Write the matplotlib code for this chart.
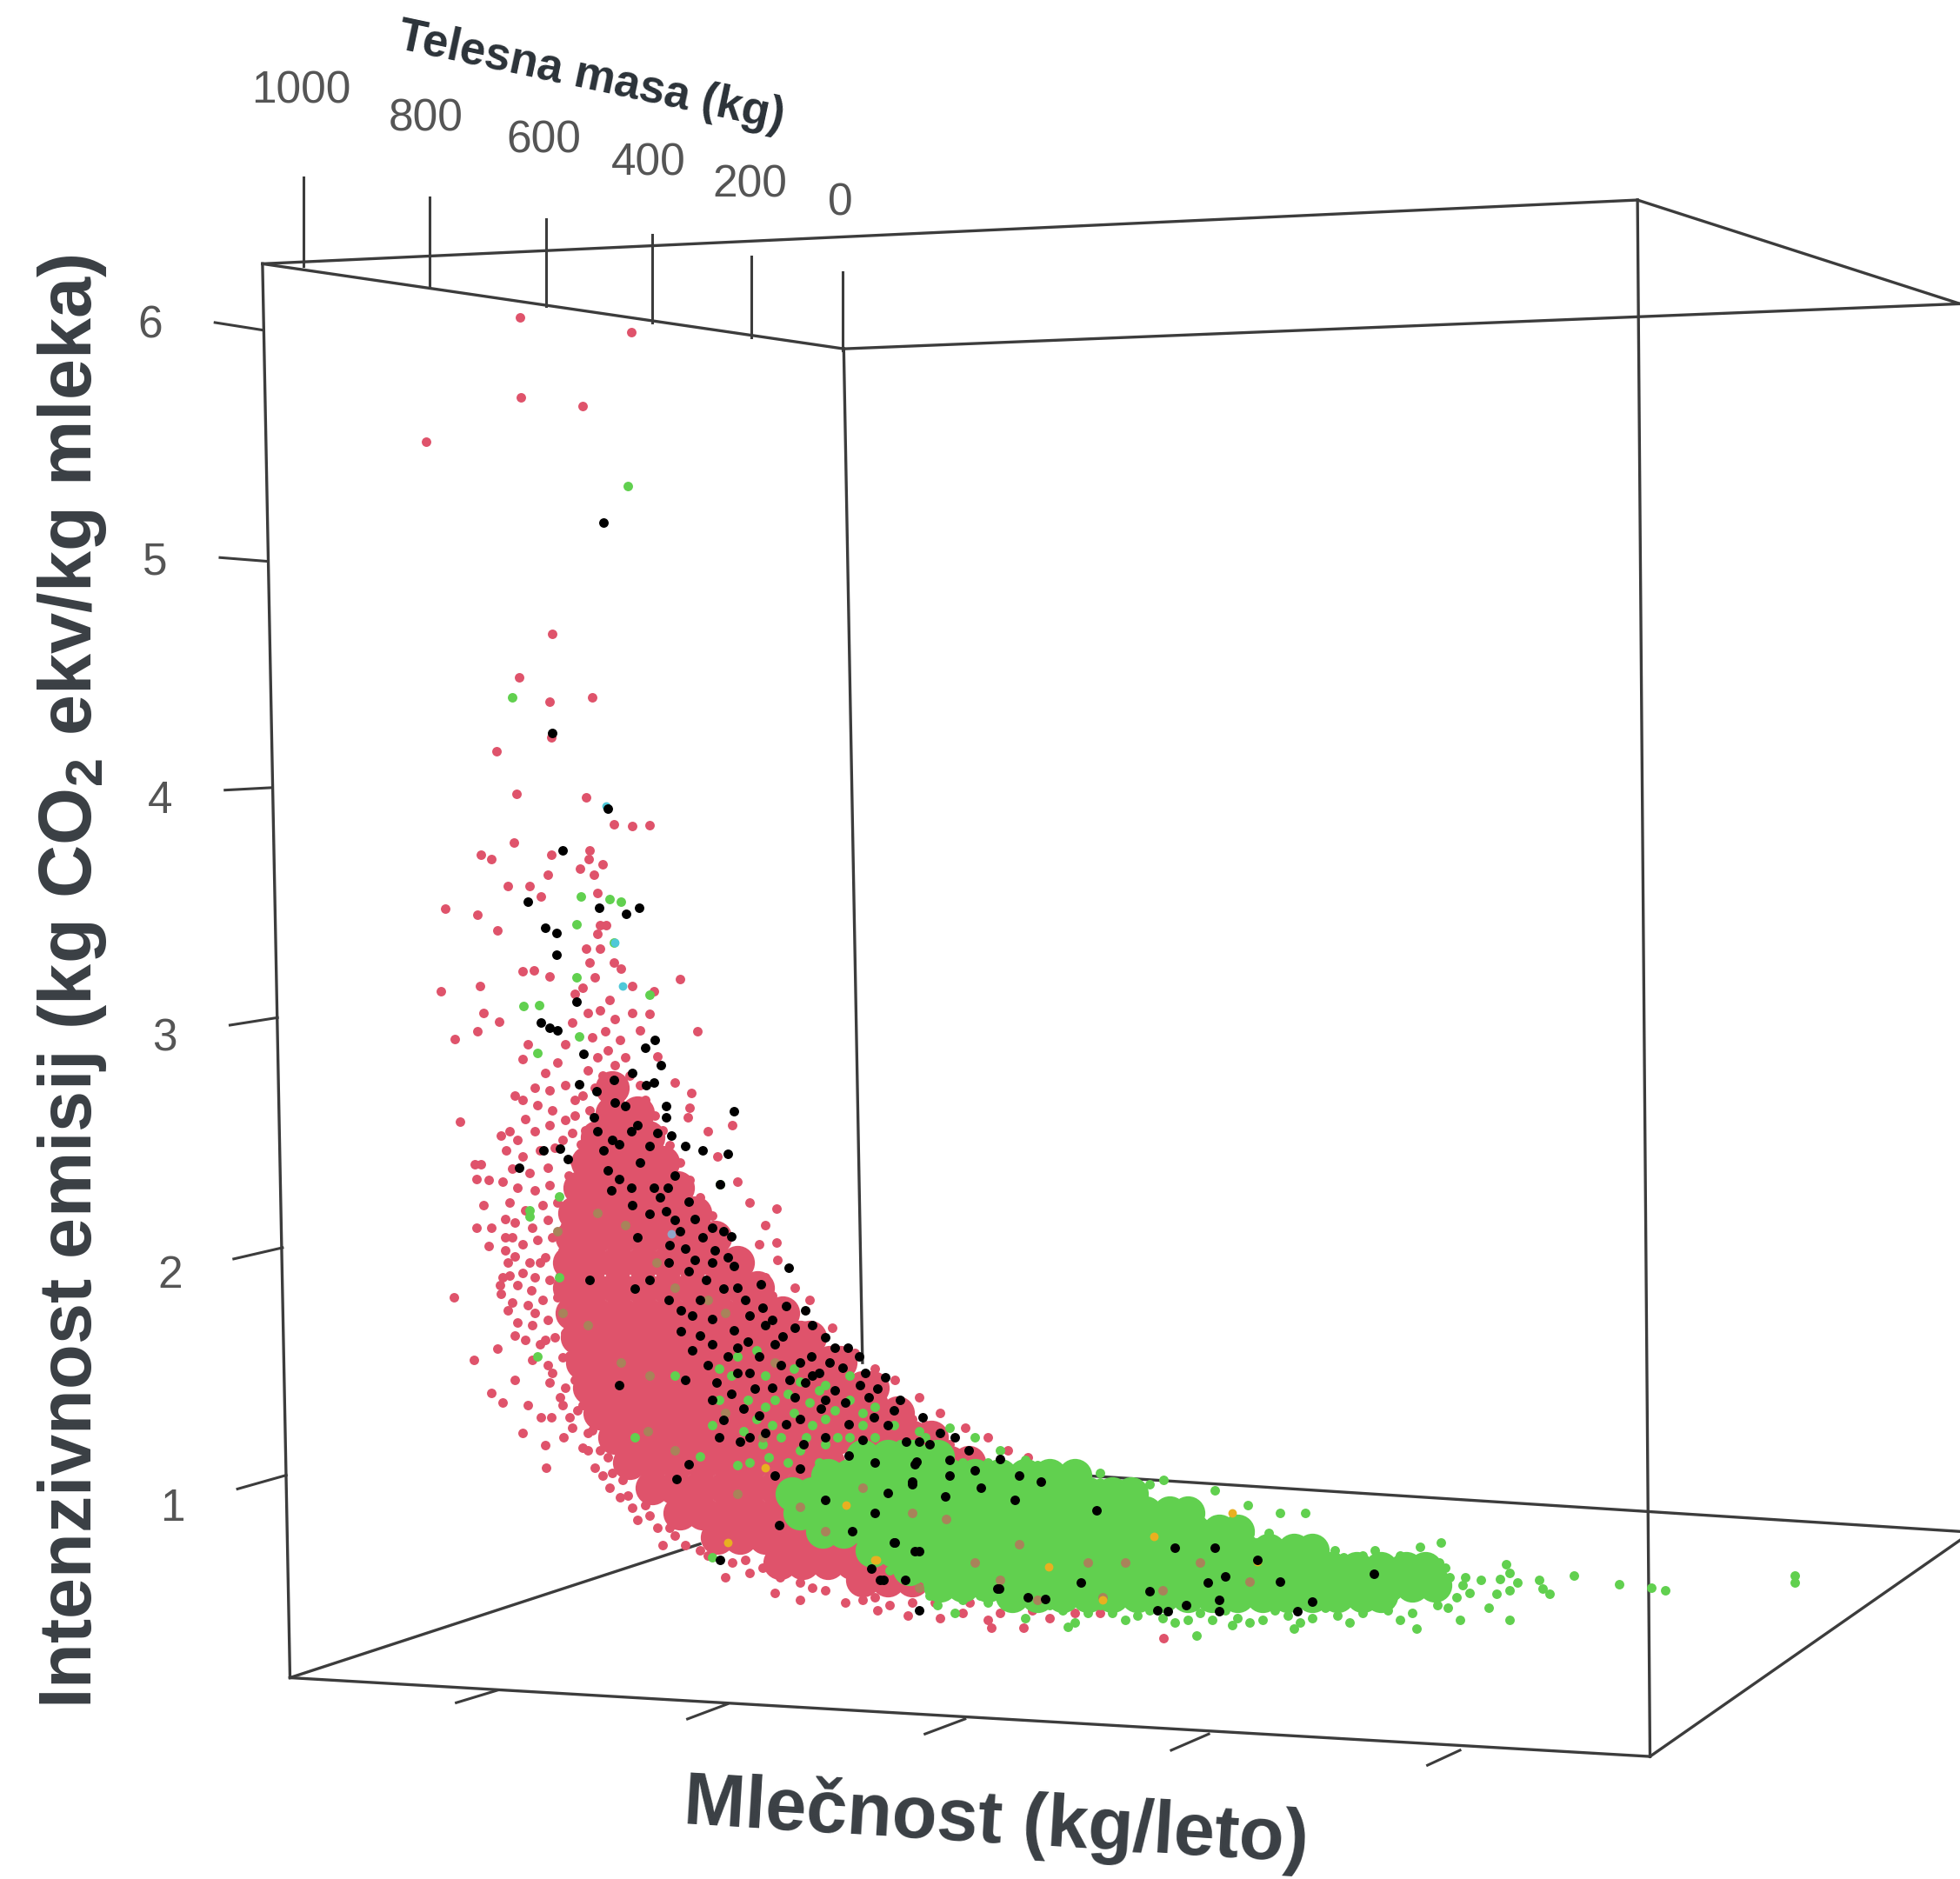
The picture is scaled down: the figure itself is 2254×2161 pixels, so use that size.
import matplotlib
matplotlib.use("Agg")
import matplotlib.pyplot as plt

plt.rcParams['font.family'] = ['Liberation Sans', 'DejaVu Sans']
plt.rcParams['mathtext.fontset'] = 'custom'
plt.rcParams['mathtext.bf'] = 'Liberation Sans:bold'
plt.rcParams['mathtext.rm'] = 'Liberation Sans'

mass_labels = ['1000', '800', '600', '400', '200', '0']
mass_label_pos = [(241, 73), (341, 95), (435, 113), (519, 131), (600, 148), (672, 163)]
mass_ticks = [(243, 142, 213), (344, 158, 230), (437, 175, 245), (522, 188, 258), (601, 205, 270), (674, 218, 280)]

z_labels = ['6', '5', '4', '3', '2', '1']
z_label_pos = [(120, 261), (124, 450), (128, 641), (132, 831), (136, 1021), (138, 1207)]
z_ticks = [(172, 258, 210, 264), (176, 446, 214, 449), (180, 632, 218, 630),
           (184, 820, 222, 814), (187, 1007, 226, 998), (190, 1191, 229, 1180)]
milk_ticks = [(365, 1362, 398, 1352), (550, 1375, 582, 1363), (740, 1387, 772, 1375),
              (937, 1400, 967, 1387), (1142, 1412, 1168, 1400)]

box_lines = [(210, 211, 232, 1342), (232, 1342, 1320, 1405), (1310, 160, 1320, 1405),
             (210, 211, 1310, 160), (210, 211, 675, 279), (675, 279, 1568, 243),
             (675, 279, 690, 1090), (1310, 160, 1568, 243), (232, 1342, 560, 1235),
             (800, 1176, 1568, 1225), (1320, 1405, 1568, 1232)]

pink_core = [
    (870, [490]), (890, [490, 510]),
    (910, [478, 498, 518]), (930, [470, 490, 510, 530]),
    (950, [464, 482, 502, 522, 542]), (970, [460, 478, 498, 518, 538, 556]),
    (990, [458, 476, 496, 516, 536, 556, 572]), (1010, [456, 474, 494, 514, 534, 554, 574, 590]),
    (1030, [456, 474, 494, 514, 534, 554, 574, 594, 606]),
    (1050, [458, 476, 496, 516, 536, 556, 576, 596, 616, 626]),
    (1070, [462, 480, 500, 520, 540, 560, 580, 600, 620, 640, 648]),
    (1090, [466, 484, 504, 524, 544, 564, 584, 604, 624, 644, 664, 672]),
    (1110, [472, 490, 510, 530, 550, 570, 590, 610, 630, 650, 670, 690, 698]),
    (1130, [480, 498, 518, 538, 558, 578, 598, 618, 638, 658, 678, 698, 718]),
    (1150, [492, 510, 530, 550, 570, 590, 610, 630, 650, 670, 690, 710, 730, 745]),
    (1170, [504, 522, 542, 562, 582, 602, 622, 642, 662, 700, 720, 740, 760, 775]),
    (1190, [522, 540, 560, 580, 600, 620, 640, 660]),
    (1210, [544, 562, 582, 602, 622, 642, 662, 682]),
    (1230, [574, 592, 612, 632, 652, 672, 692, 712]),
    (1250, [624, 642, 662, 682, 702, 722, 742]),
    (1264, [690, 710, 730, 750, 770]),
]
green_core = [
    (1165, [690, 710, 730, 750]),
    (1180, [662, 680, 700, 720, 740, 760, 780, 800, 820, 840, 860]),
    (1195, [634, 650, 670, 690, 710, 730, 750, 770, 790, 810, 830, 850, 870, 890, 905]),
    (1210, [640, 656, 676, 696, 716, 736, 756, 776, 796, 816, 836, 856, 876, 896, 916, 936, 950]),
    (1225, [658, 675, 695, 715, 735, 755, 775, 795, 815, 835, 855, 875, 895, 915, 935, 955, 975, 990]),
    (1240, [698, 715, 735, 755, 775, 795, 815, 835, 855, 875, 895, 915, 935, 955, 975, 995, 1015, 1035, 1050]),
    (1255, [728, 745, 765, 785, 805, 825, 845, 865, 885, 905, 925, 945, 965, 985, 1005, 1025, 1045, 1065, 1085, 1105, 1125, 1140]),
    (1268, [752, 770, 790, 810, 830, 850, 870, 890, 910, 930, 950, 970, 990, 1010, 1030, 1050, 1070, 1090, 1110, 1130, 1148]),
    (1276, [810, 830, 850, 870, 890, 910, 930, 950, 970, 990, 1010, 1030, 1050, 1070, 1090, 1105]),
]

pink_dots = [
    (416, 254), (505, 266), (417, 318), (466, 325), (341, 353), (442, 507), (415, 542), (474, 558),
    (440, 561), (397, 601), (441, 590), (413, 635), (469, 638), (491, 659), (506, 661), (520, 660),
    (411, 674), (385, 684), (393, 687), (441, 684), (472, 680), (471, 687), (482, 691), (464, 695),
    (438, 700), (475, 700), (406, 709), (424, 709), (433, 717), (478, 714), (356, 727), (382, 732),
    (398, 744), (480, 740), (485, 740), (478, 747), (469, 759), (480, 759), (491, 770), (497, 775),
    (418, 777), (427, 776), (440, 781), (544, 783), (384, 789), (353, 793), (506, 789), (523, 793),
    (520, 811), (387, 810), (399, 817), (382, 825), (364, 831), (558, 825), (422, 835), (418, 847),
    (553, 874), (412, 876), (550, 894), (368, 897), (586, 900), (621, 967), (607, 995), (621, 994),
    (363, 1038), (398, 1079), (379, 1088), (412, 1104), (393, 1114), (402, 1122), (422, 1124),
    (433, 1134), (441, 1134), (418, 1146), (436, 1156), (437, 1174), (451, 1150), (381, 982),
    (393, 982), (391, 997), (387, 964), (380, 931), (385, 931), (381, 943), (391, 944),
    (472, 770), (466, 790), (460, 795), (476, 782), (470, 810), (458, 818), (452, 835), (446, 850),
    (436, 858), (428, 870), (440, 872), (452, 868), (460, 880), (442, 888), (430, 884), (418, 880),
    (420, 895), (408, 905), (401, 908), (414, 912), (428, 905), (440, 900), (452, 896), (405, 920),
    (418, 925), (432, 920), (444, 918), (410, 935), (424, 938), (438, 934), (402, 945), (414, 950),
    (428, 952), (440, 948), (408, 962), (420, 968), (434, 964), (446, 962), (412, 978), (426, 982),
    (438, 976), (404, 990), (418, 995), (430, 992), (442, 990), (412, 1005), (424, 1010), (436, 1006),
    (402, 1022), (414, 1028), (428, 1022), (440, 1024), (401, 1035), (410, 1042), (422, 1044),
    (434, 1040), (446, 1038), (414, 1058), (426, 1060), (438, 1056), (420, 1072), (432, 1075),
    (444, 1070), (426, 1088), (438, 1092), (450, 1086), (440, 1106), (452, 1110), (462, 1102),
    (450, 1124), (462, 1128), (458, 1142), (470, 1146), (466, 1158), (480, 1160), (476, 1174),
    (490, 1178), (488, 1190), (502, 1196), (506, 1206), (520, 1212), (526, 1222), (540, 1228),
    (548, 1236), (566, 1244), (586, 1250), (600, 1258), (624, 1262), (640, 1266), (660, 1272),
    (690, 1280), (712, 1284), (748, 1282), (770, 1290), (790, 1296), (793, 1302), (819, 1302),
    (931, 1310), (860, 1290), (826, 1288), (620, 1274), (640, 1280), (596, 1248), (580, 1262),
    (506, 810), (512, 824), (526, 845), (540, 866), (552, 886), (566, 905), (574, 925), (590, 945),
    (600, 962), (612, 980), (622, 1008), (636, 1030), (648, 1040), (666, 1062), (684, 1082),
    (700, 1095), (716, 1104), (735, 1118), (752, 1130), (772, 1142), (790, 1150), (806, 1160),
    (822, 1166), (838, 1172), (600, 1042), (626, 1050), (640, 1072), (668, 1100), (730, 1135),
    (760, 1155), (800, 1172), (820, 1185), (845, 1190), (868, 1196), (612, 1022), (618, 1036),
    (760, 1250), (785, 1262), (810, 1280), (845, 1276), (880, 1290), (905, 1284), (952, 1282),
    # column rising from the mass, thinning out upward
    (488, 800), (480, 808), (492, 815), (484, 825), (474, 830), (496, 832), (486, 840), (478, 846),
    (500, 846), (492, 852), (470, 856), (482, 860), (504, 860), (512, 868), (476, 870), (498, 872),
    (466, 876), (486, 880), (516, 880), (504, 884), (472, 888), (524, 892), (460, 892), (468, 904),
    (530, 904), (536, 916), (458, 906), (450, 912), (544, 930), (552, 944), (560, 958), (570, 972),
    (578, 986), (590, 1000), (598, 1014), (610, 1030), (620, 1042), (634, 1056), (650, 1076),
    (660, 1086), (674, 1098), (690, 1110), (706, 1120), (722, 1128), (740, 1140),
    # speckled left edge next to the mass
    (452, 980), (450, 1000), (448, 1020), (450, 1046), (452, 1066), (456, 1084), (460, 1104),
    (466, 1124), (474, 1144), (486, 1166), (498, 1184), (516, 1204), (536, 1222), (560, 1240),
    (610, 1254), (650, 1270), (700, 1278), (730, 1282), (455, 940), (460, 930), (465, 915),
    (432, 1010), (425, 1032), (418, 1018), (436, 1072), (428, 1050), (442, 1098), (448, 1118),
    (456, 1134), (470, 1160), (482, 1180), (496, 1198), (510, 1216), (530, 1236),
    (408, 1020), (404, 1000), (406, 1010), (404, 975), (410, 990), (400, 1028), (406, 1048), (412, 1068),
    # lower rim of the mass under the green cloud
    (676, 1282), (702, 1288), (726, 1292), (752, 1294), (776, 1282), (800, 1290), (840, 1294),
]
green_dots = [
    (502, 389), (410, 558), (465, 717), (488, 719), (497, 721), (461, 739), (491, 754), (461, 782),
    (419, 805), (431, 804), (520, 796), (430, 842), (463, 829), (576, 947), (447, 957), (424, 973),
    (447, 1022), (570, 1246), (424, 968), (430, 1085), (508, 1150), (540, 1100), (560, 1165),
    (1436, 1260), (1436, 1266), (1332, 1272), (1321, 1270), (1295, 1267), (1259, 1260), (1205, 1251),
    (1208, 1258), (1231, 1264), (1234, 1271), (1240, 1275), (1185, 1264), (1200, 1263), (1214, 1266),
    (1197, 1275), (1208, 1272), (1191, 1286), (1208, 1296), (1168, 1296), (1133, 1303), (1136, 1237),
    (1153, 1234), (1151, 1250), (1130, 1248), (1035, 1303), (957, 1308), (854, 1301), (972, 1192),
    (931, 1184), (920, 1187), (903, 1190), (1024, 1210), (1044, 1210), (957, 1206), (998, 1204),
    (986, 1300), (760, 1142), (780, 1150), (800, 1160), (820, 1168), (838, 1175), (850, 1178),
    (868, 1180), (880, 1186), (890, 1192), (905, 1200), (925, 1208), (945, 1218), (965, 1226),
    (985, 1230), (1005, 1234), (1030, 1238), (1050, 1242), (1068, 1240), (1090, 1244), (1110, 1248),
    (1125, 1250), (1145, 1256), (1160, 1262), (1170, 1268), (1165, 1278), (1150, 1284), (1130, 1290),
    (1110, 1288), (1090, 1290), (1070, 1292), (1050, 1294), (1030, 1292), (1010, 1296), (990, 1294),
    (970, 1296), (950, 1296), (930, 1294), (910, 1292), (890, 1290), (870, 1290), (850, 1288),
    (830, 1286), (810, 1284), (790, 1282), (770, 1280), (750, 1284), (640, 1105), (655, 1112),
    (620, 1120), (635, 1130), (650, 1140), (668, 1128), (612, 1100), (595, 1145), (575, 1120),
    (600, 1170), (625, 1150), (605, 1135), (585, 1100), (670, 1150), (640, 1160), (655, 1170),
    (700, 1125), (690, 1140), (715, 1140), (735, 1145), (590, 1172), (615, 1166), (720, 1155),
    (648, 1122), (660, 1135), (680, 1120), (690, 1130), (630, 1115), (618, 1140), (610, 1155),
    (630, 1170), (645, 1150), (660, 1155), (680, 1150), (700, 1150), (740, 1150), (750, 1160),
    (770, 1170), (790, 1170), (830, 1172), (860, 1172), (880, 1178), (900, 1196), (940, 1205),
    (960, 1216), (990, 1220), (1015, 1226), (1060, 1246), (1095, 1250), (680, 1100), (660, 1108),
    (635, 1095), (612, 1125), (598, 1120), (575, 1095), (605, 1080), (590, 1085), (570, 1140),
    # ragged rim of the green cloud
    (875, 1194), (915, 1200), (930, 1212), (972, 1216), (1000, 1226), (1040, 1232), (1075, 1246),
    (1100, 1240), (1120, 1244), (1138, 1248), (1156, 1254), (1172, 1262), (1176, 1274), (1158, 1286),
    (1120, 1296), (1098, 1282), (1080, 1298), (1060, 1286), (1040, 1298), (1020, 1288), (1000, 1298),
    (980, 1288), (960, 1290), (940, 1298), (920, 1288), (900, 1296), (880, 1284), (860, 1298),
    (840, 1284), (820, 1294), (784, 1276), (764, 1290), (744, 1276), (712, 1256), (700, 1244),
]
olive_dots = [
    (446, 985), (478, 970), (500, 980), (525, 1010), (540, 1030), (580, 1050), (612, 1060), (470, 1060),
    (497, 1090), (520, 1100), (580, 1130), (610, 1150), (566, 1040), (620, 1090), (450, 1050),
    (518, 1145), (540, 1160), (590, 1195), (640, 1205), (660, 1225), (780, 1250), (815, 1235),
    (870, 1250), (757, 1215), (735, 1270), (930, 1272), (800, 1264), (830, 1280), (900, 1250),
    (882, 1278), (690, 1190), (730, 1210), (960, 1250), (1000, 1265),
]
black_dots = [
    (483, 418), (442, 586), (486, 647), (450, 680), (422, 721), (436, 742), (445, 746), (445, 764),
    (479, 726), (501, 731), (511, 726), (433, 818), (440, 822), (446, 824), (461, 801), (524, 832),
    (516, 838), (529, 852), (467, 843), (506, 858), (491, 864), (463, 867), (477, 873), (523, 866),
    (517, 868), (533, 885), (492, 882), (587, 889), (475, 894), (533, 894), (526, 906), (537, 908),
    (582, 923), (562, 920), (548, 917), (483, 920), (520, 917), (435, 920), (448, 919), (454, 927),
    (415, 934), (486, 936), (495, 943), (489, 952), (505, 950), (523, 950), (534, 950), (576, 947),
    (506, 964), (551, 961), (520, 971), (533, 969), (540, 976), (570, 982), (579, 985), (585, 989),
    (544, 985), (536, 996), (548, 999), (582, 1006), (587, 1013), (631, 1014), (609, 1027),
    (508, 1031), (551, 1017), (565, 1024), (579, 1031), (472, 1024), (520, 1024), (545, 1048),
    (554, 1052), (570, 1055), (587, 1064), (598, 1073), (629, 1045), (644, 1048), (626, 1069),
    (554, 1080), (582, 1085), (607, 1085), (649, 1085), (687, 1085), (674, 1094), (688, 1108),
    (702, 1111), (548, 1104), (573, 1106), (604, 1111), (632, 1104), (644, 1106), (495, 1108),
    (595, 1127), (607, 1132), (629, 1139), (657, 1127), (679, 1139), (699, 1134), (579, 1136),
    (592, 1153), (643, 1155), (725, 1153), (735, 1153), (744, 1155), (733, 1169), (679, 1164),
    (780, 1176), (800, 1167), (620, 1180), (541, 1183), (551, 1171), (730, 1185), (710, 1194),
    (756, 1197), (623, 1220), (682, 1225), (716, 1234), (735, 1241), (576, 1248), (697, 1255),
    (724, 1264), (707, 1264), (798, 1271), (735, 1288), (732, 1171), (730, 1187), (833, 1185),
    (877, 1208), (940, 1238), (972, 1238), (1006, 1248), (1099, 1259), (715, 1234), (732, 1241),
    (704, 1264), (799, 1271), (822, 1278), (836, 1279), (865, 1266), (920, 1273), (926, 1288),
    (934, 1289), (949, 1284), (975, 1280), (975, 1289), (966, 1266), (980, 1261), (1024, 1265),
    (1038, 1289), (1050, 1281), (660, 1070), (668, 1078), (612, 1060), (625, 1092), (655, 1098),
    (590, 1098), (575, 1150), (640, 1175), (760, 1168), (815, 1180),
    # dark band along the upper edge of the mass
    (500, 885), (510, 900), (478, 905), (490, 912), (512, 930), (540, 940), (528, 958), (556, 975),
    (562, 990), (572, 1000), (556, 1008), (596, 1040), (610, 1046), (618, 1056), (636, 1062),
    (650, 1060), (664, 1090), (678, 1078), (692, 1098), (708, 1102), (720, 1120), (738, 1134),
    (752, 1146), (764, 1150), (775, 1160), (618, 1110), (636, 1118), (650, 1100), (612, 1146),
    (566, 1092), (560, 1068), (600, 1098), (585, 1115), (668, 1112), (660, 1150), (690, 1152),
    (710, 1140), (700, 1170), (760, 1180), (785, 1190), (812, 1200), (700, 1210), (660, 1200),
    (570, 1010), (590, 1030), (600, 1052), (620, 1075), (640, 1090), (660, 1120), (640, 1135),
    (676, 1122), (695, 1118), (715, 1128), (590, 1078), (570, 1075), (545, 1065), (535, 1040),
    (560, 1040), (535, 1010), (510, 990), (495, 915), (505, 905), (600, 1150), (570, 1120),
]
yellow_dots = [(582, 1234), (612, 1174), (677, 1204), (700, 1248), (986, 1210), (923, 1229), (1006, 1249),
               (839, 1253), (701, 1248), (882, 1280)]
cyan_dots = [(485, 645), (492, 754), (498, 789)]
blue_dots = [(537, 987)]


def xs(pts):
    return [p[0] for p in pts]


def ys(pts):
    return [p[1] for p in pts]


def expand(rows):
    return [(x, y) for y, row in rows for x in row]


fig = plt.figure(figsize=(22.54, 21.61), dpi=100)
ax = fig.add_axes([0, 0, 1, 1])
ax.set_xlim(0, 1568)
ax.set_ylim(1503, 0)
ax.axis('off')

line_col = '#3c3c3c'
for x0, y0, x1, y1 in box_lines:
    ax.plot([x0, x1], [y0, y1], color=line_col, lw=2.4, zorder=1)
for x, y0, y1 in mass_ticks:
    ax.plot([x, x], [y0, y1], color=line_col, lw=2.2, zorder=1)
for x0, y0, x1, y1 in z_ticks + milk_ticks:
    ax.plot([x0, x1], [y0, y1], color=line_col, lw=2.2, zorder=1)

dot = 62
core = expand(pink_core)
ax.scatter(xs(core), ys(core), s=800, color='#DF536B', linewidths=0, zorder=2)
ax.scatter(xs(pink_dots), ys(pink_dots), s=dot, color='#DF536B', linewidths=0, zorder=3)
core = expand(green_core)
ax.scatter(xs(core), ys(core), s=800, color='#61D04F', linewidths=0, zorder=4)
ax.scatter(xs(green_dots), ys(green_dots), s=dot, color='#61D04F', linewidths=0, zorder=5)
ax.scatter(xs(olive_dots), ys(olive_dots), s=dot, color='#A8835A', linewidths=0, zorder=6)
ax.scatter(xs(cyan_dots), ys(cyan_dots), s=50, color='#4FC8D8', linewidths=0, zorder=6)
ax.scatter(xs(blue_dots), ys(blue_dots), s=50, color='#8FA6C8', linewidths=0, zorder=6)
ax.scatter(xs(yellow_dots), ys(yellow_dots), s=50, color='#E8B020', linewidths=0, zorder=6)
ax.scatter(xs(black_dots), ys(black_dots), s=dot, color='black', linewidths=0, zorder=7)

for lab, (x, y) in zip(mass_labels, mass_label_pos):
    ax.text(x, y, lab, ha='center', va='center', fontsize=37, color='#555555')
for lab, (x, y) in zip(z_labels, z_label_pos):
    ax.text(x, y, lab, ha='center', va='center', fontsize=37, color='#555555')

ax.text(473, 62, 'Telesna masa (kg)', ha='center', va='center', rotation=-12, rotation_mode='anchor',
        fontsize=38, fontweight='bold', color='#2b3238')
ax.text(797, 1458, 'Mlečnost (kg/leto)', ha='center', va='center', rotation=-3.5, rotation_mode='anchor',
        fontsize=61, fontweight='bold', color='#3a3f44')
ax.text(58, 785, r'Intenzivnost emisij (kg CO$\mathbf{_2}$ ekv/kg mleka)', ha='center', va='center',
        rotation=90, rotation_mode='anchor', fontsize=61, fontweight='bold', color='#3a3f44')

fig.savefig('out.png', dpi=100)
